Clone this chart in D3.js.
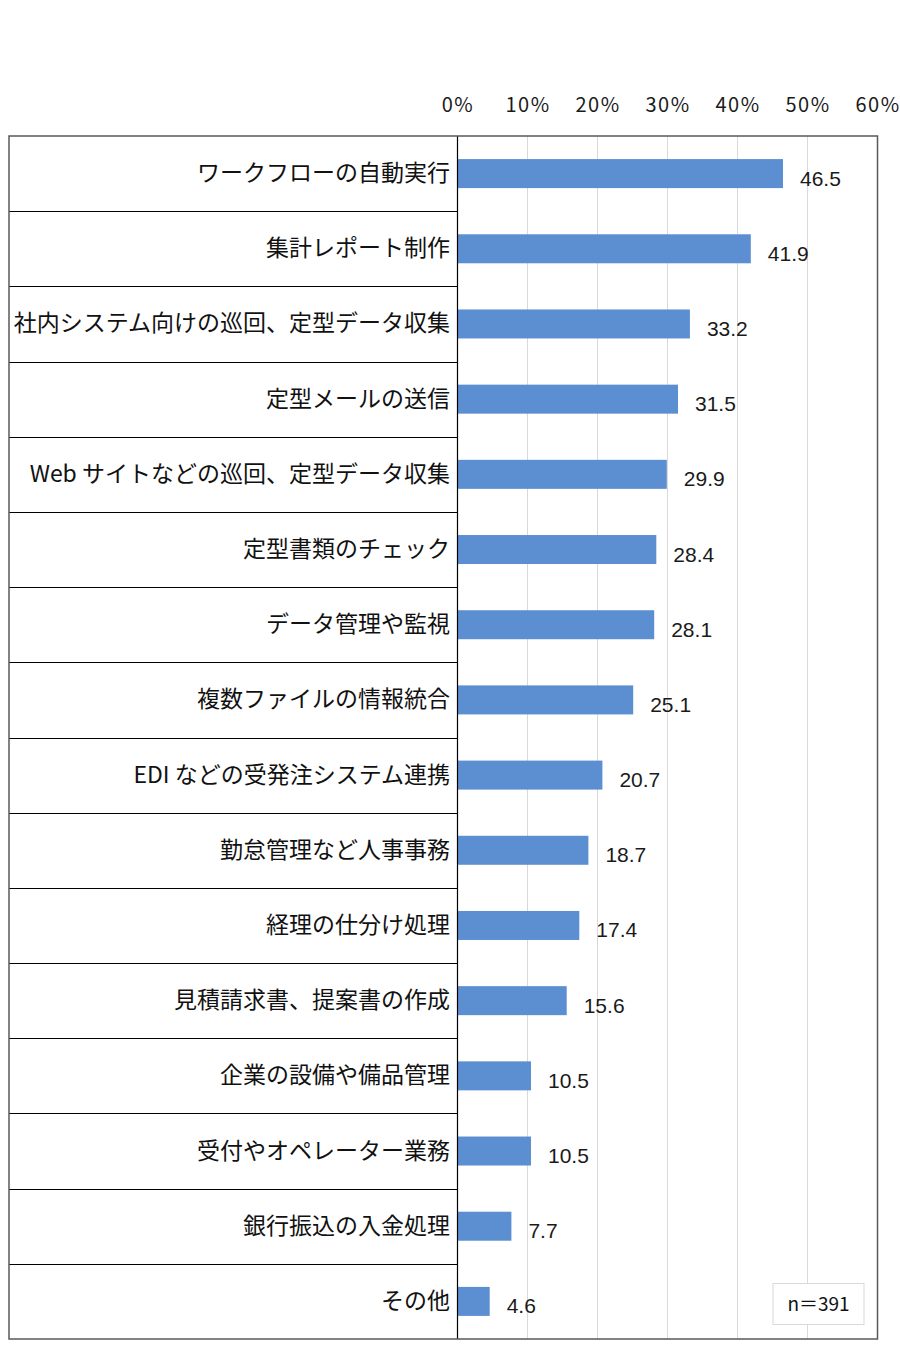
<!DOCTYPE html>
<html><head><meta charset="utf-8">
<script src="https://cdn.jsdelivr.net/npm/d3@7"></script>
<style>body{margin:0;background:#fff}</style>
</head><body>
<svg id="chart" width="900" height="1367"></svg>
<script>
const categories = ["ワークフローの自動実行","集計レポート制作","社内システム向けの巡回、定型データ収集","定型メールの送信","Web サイトなどの巡回、定型データ収集","定型書類のチェック","データ管理や監視","複数ファイルの情報統合","EDI などの受発注システム連携","勤怠管理など人事事務","経理の仕分け処理","見積請求書、提案書の作成","企業の設備や備品管理","受付やオペレーター業務","銀行振込の入金処理","その他"];
const values = [46.5,41.9,33.2,31.5,29.9,28.4,28.1,25.1,20.7,18.7,17.4,15.6,10.5,10.5,7.7,4.6];
const tickValues = [0,10,20,30,40,50,60];
const noteText = "n＝391";

(function(){
const svg = d3.select("#chart");
const L = 9, axisX = 457.5, R = 877.5, T = 136, B = 1339;
const jp = "'Noto Sans CJK JP','Noto Sans',sans-serif";

const x = d3.scaleLinear().domain([0,60]).range([axisX,R]);
const y = d3.scaleBand().domain(categories).range([T,B]).paddingInner(0).paddingOuter(0);
const barH = 29;

svg.append("g").selectAll("line").data(tickValues.slice(1,-1)).join("line")
  .attr("x1",d=>x(d)).attr("x2",d=>x(d)).attr("y1",T).attr("y2",B)
  .attr("stroke","#d9d9d9").attr("stroke-width",1);

const ax = d3.axisTop(x).tickValues(tickValues).tickFormat(d=>d+"%").tickSize(0).tickPadding(0);
const axG = svg.append("g").attr("transform",`translate(0,${T-24})`).call(ax);
axG.select(".domain").remove();
axG.selectAll("text").attr("font-family",jp).attr("font-size",20).attr("fill","#1a1a1a").attr("dy","0").attr("letter-spacing","1.5");

svg.append("g").selectAll("line").data(categories.slice(1)).join("line")
  .attr("x1",L).attr("x2",axisX).attr("y1",d=>Math.round(y(d))+0.5).attr("y2",d=>Math.round(y(d))+0.5)
  .attr("stroke","#000").attr("stroke-width",1.2);

svg.append("g").selectAll("rect").data(values).join("rect")
  .attr("x",x(0)).attr("width",d=>x(d)-x(0))
  .attr("y",(d,i)=>y(categories[i])+y.bandwidth()/2-barH/2).attr("height",barH)
  .attr("fill","#5b8fd1");

svg.append("g").selectAll("text").data(values).join("text")
  .attr("x",d=>x(d)+17).attr("y",(d,i)=>y(categories[i])+y.bandwidth()/2+12)
  .attr("font-family","'Liberation Sans Narrow','Liberation Sans',sans-serif").attr("font-size",21).attr("fill","#1a1a1a")
  .text(d=>d.toFixed(1));

svg.append("g").selectAll("text").data(categories).join("text")
  .attr("x",450).attr("y",d=>y(d)+y.bandwidth()/2+7.5)
  .attr("text-anchor","end").attr("font-family",jp).attr("font-size",23).attr("fill","#111")
  .text(d=>d);

svg.append("line").attr("x1",axisX).attr("x2",axisX).attr("y1",T).attr("y2",B).attr("stroke","#000").attr("stroke-width",1.2);

svg.append("rect").attr("x",L).attr("y",T).attr("width",R-L).attr("height",B-T)
  .attr("fill","none").attr("stroke","#595959").attr("stroke-width",1.5);

svg.append("rect").attr("x",773).attr("y",1283.5).attr("width",91).attr("height",41)
  .attr("fill","#fff").attr("stroke","#d9d9d9").attr("stroke-width",1);
svg.append("text").attr("x",818.5).attr("y",1311).attr("text-anchor","middle")
  .attr("font-family",jp).attr("font-size",19).attr("fill","#111").text(noteText);
})();
</script>
</body></html>
